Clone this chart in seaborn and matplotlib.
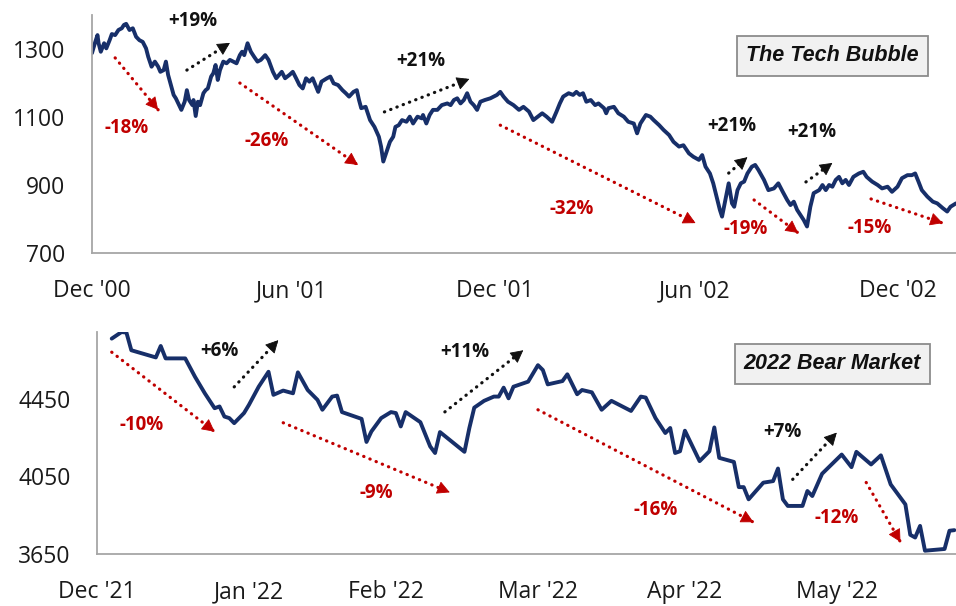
import matplotlib
matplotlib.use("Agg")
import matplotlib.pyplot as plt
import matplotlib.dates as mdates
import numpy as np
import pandas as pd
import seaborn as sns

# ---- data ----
# S&P 500, tech bubble (Dec 2000 - Feb 2003)
top_dates = [
    "2000-12-31", "2001-01-03", "2001-01-05", "2001-01-06", "2001-01-08", "2001-01-11", "2001-01-13", "2001-01-16",
    "2001-01-18", "2001-01-21", "2001-01-24", "2001-01-27", "2001-01-29", "2001-01-31", "2001-02-03", "2001-02-06",
    "2001-02-09", "2001-02-12", "2001-02-15", "2001-02-18", "2001-02-20", "2001-02-23", "2001-02-26", "2001-03-01",
    "2001-03-03", "2001-03-06", "2001-03-08", "2001-03-10", "2001-03-13", "2001-03-15", "2001-03-17", "2001-03-20",
    "2001-03-22", "2001-03-25", "2001-03-27", "2001-03-29", "2001-04-01", "2001-04-02", "2001-04-04", "2001-04-06",
    "2001-04-08", "2001-04-11", "2001-04-13", "2001-04-15", "2001-04-18", "2001-04-20", "2001-04-22", "2001-04-24",
    "2001-04-26", "2001-04-29", "2001-05-02", "2001-05-05", "2001-05-08", "2001-05-11", "2001-05-14", "2001-05-16",
    "2001-05-18", "2001-05-21", "2001-05-24", "2001-05-27", "2001-05-30", "2001-06-02", "2001-06-06", "2001-06-09",
    "2001-06-13", "2001-06-16", "2001-06-21", "2001-06-24", "2001-06-28", "2001-07-01", "2001-07-04", "2001-07-07",
    "2001-07-10", "2001-07-13", "2001-07-16", "2001-07-19", "2001-07-24", "2001-07-27", "2001-08-01", "2001-08-04",
    "2001-08-07", "2001-08-11", "2001-08-15", "2001-08-18", "2001-08-21", "2001-08-25", "2001-08-28", "2001-08-30",
    "2001-09-01", "2001-09-05", "2001-09-09", "2001-09-13", "2001-09-17", "2001-09-19", "2001-09-21", "2001-09-24",
    "2001-09-27", "2001-09-30", "2001-10-02", "2001-10-05", "2001-10-08", "2001-10-12", "2001-10-15", "2001-10-18",
    "2001-10-22", "2001-10-26", "2001-10-27", "2001-10-30", "2001-11-02", "2001-11-05", "2001-11-09", "2001-11-13",
    "2001-11-18", "2001-11-21", "2001-11-24", "2001-11-27", "2001-11-30", "2001-12-03", "2001-12-06", "2001-12-09",
    "2001-12-12", "2001-12-15", "2001-12-18", "2001-12-22", "2001-12-27", "2001-12-30", "2002-01-02", "2002-01-05",
    "2002-01-08", "2002-01-12", "2002-01-17", "2002-01-22", "2002-01-26", "2002-01-31", "2002-02-04", "2002-02-08",
    "2002-02-12", "2002-02-16", "2002-02-21", "2002-02-25", "2002-02-28", "2002-03-03", "2002-03-08", "2002-03-12",
    "2002-03-15", "2002-03-18", "2002-03-21", "2002-03-24", "2002-03-28", "2002-04-01", "2002-04-04", "2002-04-09",
    "2002-04-11", "2002-04-13", "2002-04-18", "2002-04-22", "2002-04-27", "2002-05-01", "2002-05-06", "2002-05-09",
    "2002-05-12", "2002-05-17", "2002-05-21", "2002-05-24", "2002-05-29", "2002-06-02", "2002-06-07", "2002-06-11",
    "2002-06-16", "2002-06-20", "2002-06-25", "2002-06-29", "2002-07-04", "2002-07-07", "2002-07-10", "2002-07-14",
    "2002-07-17", "2002-07-20", "2002-07-23", "2002-07-25", "2002-07-28", "2002-07-31", "2002-08-03", "2002-08-05",
    "2002-08-08", "2002-08-11", "2002-08-14", "2002-08-17", "2002-08-21", "2002-08-24", "2002-08-27", "2002-09-01",
    "2002-09-05", "2002-09-10", "2002-09-14", "2002-09-18", "2002-09-22", "2002-09-25", "2002-09-28", "2002-10-01",
    "2002-10-04", "2002-10-07", "2002-10-10", "2002-10-13", "2002-10-16", "2002-10-21", "2002-10-24", "2002-10-27",
    "2002-10-30", "2002-11-02", "2002-11-05", "2002-11-08", "2002-11-11", "2002-11-14", "2002-11-17", "2002-11-21",
    "2002-11-26", "2002-11-30", "2002-12-03", "2002-12-08", "2002-12-13", "2002-12-17", "2002-12-22", "2002-12-26",
    "2002-12-31", "2003-01-04", "2003-01-09", "2003-01-13", "2003-01-16", "2003-01-19", "2003-01-22", "2003-01-27",
    "2003-02-01", "2003-02-05", "2003-02-10", "2003-02-14", "2003-02-17", "2003-02-22",
]
top_values = [
    1288, 1321, 1341, 1317, 1292, 1317, 1302, 1326, 1344, 1341, 1356, 1361, 1371, 1374, 1356, 1361,
    1336, 1326, 1321, 1302, 1277, 1248, 1263, 1248, 1233, 1238, 1263, 1224, 1189, 1165, 1155, 1135,
    1121, 1145, 1179, 1150, 1135, 1150, 1103, 1145, 1135, 1170, 1179, 1184, 1219, 1229, 1253, 1209,
    1238, 1263, 1258, 1268, 1263, 1258, 1282, 1292, 1282, 1317, 1292, 1277, 1263, 1268, 1282, 1268,
    1233, 1214, 1233, 1214, 1224, 1233, 1214, 1194, 1184, 1214, 1204, 1214, 1174, 1204, 1214, 1219,
    1199, 1194, 1179, 1170, 1160, 1174, 1179, 1150, 1126, 1130, 1091, 1071, 1042, 1013, 969, 998,
    1027, 1042, 1071, 1076, 1091, 1086, 1101, 1081, 1101, 1096, 1106, 1081, 1106, 1121, 1121, 1135,
    1140, 1135, 1150, 1155, 1140, 1150, 1170, 1145, 1135, 1121, 1145, 1150, 1155, 1160, 1165, 1174,
    1160, 1145, 1135, 1121, 1130, 1116, 1091, 1101, 1111, 1101, 1086, 1116, 1140, 1160, 1170, 1165,
    1174, 1165, 1170, 1145, 1150, 1135, 1140, 1126, 1111, 1126, 1130, 1111, 1101, 1086, 1081, 1052,
    1081, 1106, 1101, 1091, 1076, 1062, 1047, 1027, 1013, 1017, 993, 983, 974, 988, 954, 934,
    905, 866, 827, 807, 856, 905, 846, 836, 885, 905, 910, 934, 954, 959, 944, 915,
    885, 890, 905, 880, 856, 841, 851, 827, 812, 797, 778, 836, 876, 885, 900, 885,
    900, 895, 915, 924, 905, 915, 900, 924, 934, 939, 924, 910, 900, 890, 895, 880,
    895, 920, 929, 929, 934, 910, 885, 866, 851, 846, 832, 822, 836, 846,
]

# S&P 500, 2022 bear market (Jan - Jun 2022)
bear_dates = [
    "2022-01-03", "2022-01-05", "2022-01-06", "2022-01-07", "2022-01-12", "2022-01-13", "2022-01-14", "2022-01-18",
    "2022-01-20", "2022-01-22", "2022-01-24", "2022-01-25", "2022-01-26", "2022-01-27", "2022-01-28", "2022-01-30",
    "2022-01-31", "2022-02-02", "2022-02-04", "2022-02-05", "2022-02-07", "2022-02-09", "2022-02-10", "2022-02-12",
    "2022-02-14", "2022-02-15", "2022-02-17", "2022-02-18", "2022-02-19", "2022-02-23", "2022-02-24", "2022-02-25",
    "2022-02-27", "2022-03-01", "2022-03-02", "2022-03-03", "2022-03-04", "2022-03-07", "2022-03-09", "2022-03-10",
    "2022-03-11", "2022-03-16", "2022-03-17", "2022-03-18", "2022-03-20", "2022-03-22", "2022-03-23", "2022-03-24",
    "2022-03-25", "2022-03-26", "2022-03-29", "2022-03-31", "2022-04-01", "2022-04-02", "2022-04-05", "2022-04-06",
    "2022-04-08", "2022-04-09", "2022-04-11", "2022-04-13", "2022-04-15", "2022-04-19", "2022-04-21", "2022-04-22",
    "2022-04-24", "2022-04-26", "2022-04-27", "2022-04-28", "2022-04-29", "2022-04-30", "2022-05-03", "2022-05-05",
    "2022-05-06", "2022-05-07", "2022-05-10", "2022-05-11", "2022-05-12", "2022-05-13", "2022-05-16", "2022-05-18",
    "2022-05-19", "2022-05-20", "2022-05-21", "2022-05-24", "2022-05-25", "2022-05-26", "2022-05-28", "2022-06-01",
    "2022-06-03", "2022-06-04", "2022-06-07", "2022-06-09", "2022-06-11", "2022-06-14", "2022-06-15", "2022-06-16",
    "2022-06-17", "2022-06-18", "2022-06-22", "2022-06-23", "2022-06-24",
]
bear_values = [
    4761, 4795, 4792, 4701, 4664, 4723, 4659, 4659, 4564, 4479, 4402, 4411, 4359, 4351, 4325, 4377,
    4419, 4513, 4590, 4471, 4493, 4479, 4587, 4496, 4445, 4394, 4462, 4467, 4382, 4347, 4228, 4282,
    4351, 4382, 4377, 4308, 4382, 4330, 4205, 4171, 4279, 4177, 4300, 4405, 4440, 4462, 4462, 4508,
    4453, 4513, 4539, 4624, 4599, 4525, 4542, 4577, 4474, 4496, 4484, 4394, 4440, 4388, 4462, 4457,
    4351, 4274, 4300, 4171, 4180, 4286, 4129, 4180, 4303, 4146, 4125, 3995, 3995, 3932, 4018, 4026,
    4091, 3932, 3898, 3898, 3975, 3949, 4064, 4163, 4098, 4177, 4112, 4159, 4009, 3906, 3749, 3735,
    3795, 3667, 3676, 3770, 3773,
]

top_ticks = ["2000-12-31", "2001-06-30", "2001-12-31", "2002-06-30", "2002-12-31"]
top_tick_labels = ["Dec '00", "Jun '01", "Dec '01", "Jun '02", "Dec '02"]
bear_ticks = ["2021-12-31", "2022-01-31", "2022-02-28", "2022-03-31", "2022-04-30", "2022-05-31"]
bear_tick_labels = ["Dec '21", "Jan '22", "Feb '22", "Mar '22", "Apr '22", "May '22"]

# moves: label, arrow start, arrow end, label position (date, level)
top_moves = [
    ("-18%", ("2001-01-21", 1274), ("2001-03-01", 1121), ("2001-01-31", 1068)),
    ("+19%", ("2001-03-27", 1238), ("2001-05-05", 1318), ("2001-04-01", 1382)),
    ("-26%", ("2001-05-14", 1200), ("2001-08-29", 959), ("2001-06-07", 1029)),
    ("+21%", ("2001-09-22", 1115), ("2001-12-08", 1212), ("2001-10-25", 1265)),
    ("-32%", ("2002-01-05", 1076), ("2002-07-01", 788), ("2002-03-11", 829)),
    ("+21%", ("2002-07-31", 935), ("2002-08-17", 982), ("2002-08-03", 1074)),
    ("-19%", ("2002-08-23", 856), ("2002-10-02", 759), ("2002-08-15", 771)),
    ("+21%", ("2002-10-09", 909), ("2002-11-02", 965), ("2002-10-14", 1056)),
    ("-15%", ("2002-12-07", 859), ("2003-02-10", 788), ("2002-12-06", 774)),
]
bear_moves = [
    ("-10%", ("2022-01-03", 4691), ("2022-01-24", 4281), ("2022-01-09", 4317)),
    ("+6%", ("2022-01-28", 4512), ("2022-02-06", 4753), ("2022-01-25", 4696)),
    ("-9%", ("2022-02-07", 4327), ("2022-03-13", 3968), ("2022-02-26", 3963)),
    ("+11%", ("2022-03-12", 4383), ("2022-03-28", 4701), ("2022-03-16", 4691)),
    ("-16%", ("2022-03-31", 4394), ("2022-05-14", 3814), ("2022-04-24", 3876)),
    ("+7%", ("2022-05-22", 4035), ("2022-05-31", 4276), ("2022-05-20", 4281)),
    ("-12%", ("2022-06-06", 4019), ("2022-06-13", 3712), ("2022-05-31", 3835)),
]

NAVY = "#172f69"
RED = "#c00000"
GREY = "#a6a6a6"


def d2n(s):
    return mdates.date2num(pd.Timestamp(s))


def style_axis(ax, xlim, ylim, yticks, xticks, xlabels):
    ax.set_xlim(d2n(xlim[0]), d2n(xlim[1]))
    ax.set_ylim(*ylim)
    ax.set_yticks(yticks)
    ax.set_xticks([d2n(t) for t in xticks])
    ax.set_xticklabels(xlabels)
    sns.despine(ax=ax)
    for side in ["left", "bottom"]:
        ax.spines[side].set_color(GREY)
        ax.spines[side].set_linewidth(1.3)
    ax.tick_params(axis="both", length=6, width=1.3, color=GREY, labelsize=16.5,
                   labelcolor="#1a1a1a", pad=13, direction="out")
    ax.set_xlabel("")
    ax.set_ylabel("")


def add_moves(ax, moves):
    # dotted shaft + small solid head, then the % label
    for label, start, end, pos in moves:
        col = RED if label.startswith("-") else "#111111"
        x0, y0 = d2n(start[0]), start[1]
        x1, y1 = d2n(end[0]), end[1]
        ax.plot([x0, x1], [y0, y1], color=col, lw=2.3, linestyle=(0, (0.1, 2.0)),
                dash_capstyle="round")
        p0 = ax.transData.transform((x0, y0))
        p1 = ax.transData.transform((x1, y1))
        u = (p1 - p0) / np.hypot(*(p1 - p0))
        back = ax.transData.inverted().transform(p1 - u * 11)
        ax.annotate("", xy=(x1, y1), xytext=(back[0], back[1]),
                    arrowprops=dict(arrowstyle="-|>,head_length=0.8,head_width=0.42", color=col,
                                    lw=0.6, shrinkA=0, shrinkB=0, mutation_scale=10))
        ax.text(d2n(pos[0]), pos[1], label, color=col, fontsize=13.5, fontweight="bold",
                ha="center", va="center")


def add_title_box(ax, text, x, y):
    ax.text(x, y, text, transform=ax.transAxes, ha="center", va="center", fontsize=15.5,
            fontweight="bold", fontstyle="italic", family=["Liberation Sans", "DejaVu Sans"],
            color="#111111",
            bbox=dict(boxstyle="square,pad=0.42", fc="#f1f1f1", ec="#8c8c8c", lw=1.3))


sns.set_style("white")
plt.rcParams["font.family"] = ["Open Sans", "DejaVu Sans"]

top_df = pd.DataFrame({"date": pd.to_datetime(top_dates), "level": top_values})
bear_df = pd.DataFrame({"date": pd.to_datetime(bear_dates), "level": bear_values})
top_df["x"] = mdates.date2num(top_df["date"])
bear_df["x"] = mdates.date2num(bear_df["date"])

fig = plt.figure(figsize=(9.56, 6.06), dpi=100)
ax_top = fig.add_axes([0.0962, 0.5825, 0.9038, 0.3927])
ax_bot = fig.add_axes([0.1015, 0.0858, 0.8985, 0.3663])

sns.lineplot(data=top_df, x="x", y="level", ax=ax_top, color=NAVY, lw=2.8)
sns.lineplot(data=bear_df, x="x", y="level", ax=ax_bot, color=NAVY, lw=2.8)

style_axis(ax_top, ("2000-12-31", "2003-02-22"), (700, 1400), [700, 900, 1100, 1300],
           top_ticks, top_tick_labels)
style_axis(ax_bot, ("2021-12-31", "2022-06-24 08:00"), (3650, 4795), [3650, 4050, 4450],
           bear_ticks, bear_tick_labels)

add_moves(ax_top, top_moves)
add_moves(ax_bot, bear_moves)

add_title_box(ax_top, "The Tech Bubble", 0.857, 0.828)
add_title_box(ax_bot, "2022 Bear Market", 0.856, 0.856)

fig.savefig("out.png", dpi=100)
